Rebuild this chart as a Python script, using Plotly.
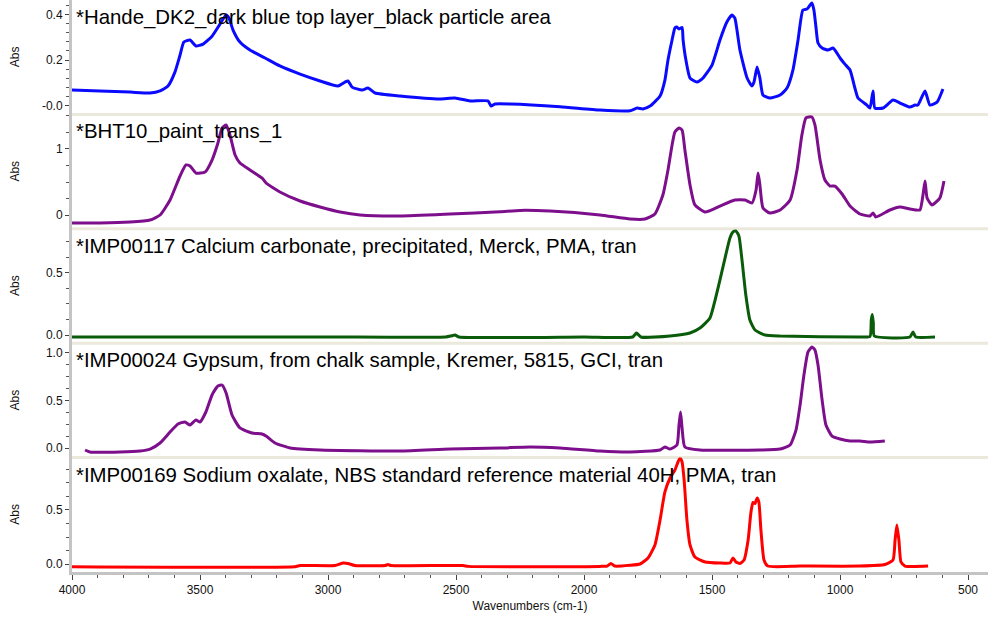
import plotly.graph_objects as go
from plotly.subplots import make_subplots

# ---------------- data ----------------
titles = [
    "*Hande_DK2_dark blue top layer_black particle area",
    "*BHT10_paint_trans_1",
    "*IMP00117 Calcium carbonate, precipitated, Merck, PMA, tran",
    "*IMP00024 Gypsum, from chalk sample, Kremer, 5815, GCI, tran",
    "*IMP00169 Sodium oxalate, NBS standard reference material 40H, PMA, tran",
]

wn1 = [4000, 3891, 3773, 3695, 3656, 3625, 3598, 3578, 3563, 3539, 3516, 3488, 3453, 3422, 3398, 3387,
       3371, 3344, 3305, 3246, 3188, 3109, 3031, 2961, 2934, 2922, 2906, 2867, 2844, 2816, 2719, 2563,
       2504, 2445, 2375, 2363, 2348, 2289, 2094, 1938, 1820, 1793, 1770, 1742, 1703, 1684, 1672, 1656,
       1645, 1637, 1629, 1617, 1613, 1602, 1586, 1559, 1535, 1500, 1469, 1442, 1422, 1411, 1391, 1363,
       1344, 1336, 1324, 1313, 1301, 1274, 1234, 1207, 1184, 1164, 1145, 1129, 1117, 1110, 1102, 1094,
       1086, 1070, 1047, 1027, 1000, 981, 961, 942, 930, 895, 883, 871, 864, 832, 793, 766, 727, 707,
       696, 668, 649, 621, 598]
ab1 = [0.068, 0.064, 0.059, 0.055, 0.064, 0.086, 0.147, 0.222, 0.279, 0.288, 0.262, 0.270, 0.305, 0.358, 0.398, 0.385,
       0.332, 0.279, 0.244, 0.209, 0.174, 0.138, 0.108, 0.086, 0.103, 0.108, 0.081, 0.068, 0.077, 0.055, 0.042, 0.029,
       0.033, 0.020, 0.020, -0.002, 0.007, 0.007, -0.005, -0.020, -0.023, -0.011, -0.015, -0.002, 0.042, 0.112, 0.200, 0.288,
       0.341, 0.345, 0.337, 0.343, 0.288, 0.200, 0.121, 0.103, 0.121, 0.178, 0.288, 0.367, 0.398, 0.385, 0.244, 0.121,
       0.086, 0.103, 0.169, 0.121, 0.046, 0.033, 0.046, 0.077, 0.156, 0.288, 0.420, 0.424, 0.442, 0.451, 0.420, 0.345,
       0.275, 0.253, 0.244, 0.253, 0.209, 0.182, 0.156, 0.077, 0.033, 0.002, -0.011, 0.064, -0.011, -0.011, 0.024, 0.011, -0.007, 0.002,
       0.002, 0.064, 0.002, 0.015, 0.073]

wn2 = [4000, 3891, 3773, 3695, 3656, 3617, 3578, 3555, 3539, 3516, 3480, 3453, 3430, 3414, 3398, 3383,
       3363, 3344, 3305, 3258, 3242, 3188, 3109, 3031, 2953, 2875, 2719, 2523, 2328, 2250, 2133, 1938,
       1820, 1762, 1723, 1692, 1672, 1656, 1645, 1629, 1617, 1606, 1586, 1567, 1527, 1469, 1411, 1371,
       1344, 1328, 1320, 1313, 1301, 1274, 1234, 1195, 1168, 1149, 1133, 1110, 1098, 1078, 1059, 1039,
       1020, 992, 961, 922, 883, 871, 860, 805, 766, 727, 688, 676, 668, 660, 641, 610, 594]
ab2 = [-0.121, -0.121, -0.106, -0.076, 0.0, 0.227, 0.591, 0.758, 0.742, 0.636, 0.652, 0.833, 1.091, 1.318, 1.364, 1.212,
       0.909, 0.788, 0.682, 0.561, 0.485, 0.348, 0.212, 0.121, 0.045, 0.0, -0.015, 0.015, 0.050, 0.070, 0.060, 0.0,
       -0.061, -0.061, 0.015, 0.303, 0.682, 1.061, 1.258, 1.318, 1.288, 0.985, 0.455, 0.152, 0.045, 0.136, 0.227, 0.227,
       0.182, 0.379, 0.636, 0.455, 0.106, 0.030, 0.076, 0.227, 0.682, 1.212, 1.470, 1.485, 1.364, 0.833, 0.530, 0.439,
       0.439, 0.318, 0.136, 0.015, -0.015, 0.030, -0.030, 0.076, 0.121, 0.091, 0.076, 0.303, 0.515, 0.258, 0.152, 0.258, 0.515]

wn3 = [4000, 3500, 3000, 2540, 2520, 2504, 2488, 2000, 1810, 1795, 1778, 1664, 1586, 1547, 1508, 1488,
       1469, 1449, 1430, 1418, 1407, 1395, 1383, 1368, 1352, 1332, 1293, 1234, 922, 883, 878, 874,
       870, 866, 727, 715, 704, 629]
ab3 = [-0.016, -0.016, -0.016, -0.016, -0.008, 0.0, -0.016, -0.016, -0.016, 0.016, -0.016, -0.008, 0.016, 0.056, 0.137, 0.282,
       0.444, 0.621, 0.782, 0.831, 0.839, 0.798, 0.605, 0.323, 0.121, 0.040, 0.0, -0.008, -0.016, -0.012, 0.120, 0.165,
       0.100, -0.008, -0.016, 0.024, -0.016, -0.016]

wn4 = [3949, 3930, 3813, 3734, 3695, 3656, 3617, 3586, 3559, 3539, 3516, 3500, 3477, 3453, 3430, 3414,
       3398, 3375, 3344, 3297, 3258, 3242, 3207, 3148, 3031, 2719, 2523, 2328, 2211, 2094, 1938, 1820,
       1703, 1684, 1664, 1637, 1629, 1623, 1617, 1606, 1547, 1313, 1234, 1195, 1172, 1156, 1141, 1125,
       1110, 1098, 1086, 1070, 1055, 1031, 1000, 961, 922, 883, 825]
ab4 = [-0.021, -0.042, -0.042, -0.032, -0.011, 0.053, 0.168, 0.253, 0.274, 0.242, 0.295, 0.274, 0.379, 0.558, 0.653, 0.663,
       0.579, 0.347, 0.211, 0.158, 0.147, 0.126, 0.053, 0.0, -0.021, -0.032, -0.011, 0.0, 0.011, 0.0, -0.032, -0.042,
       -0.021, 0.011, -0.011, 0.032, 0.242, 0.379, 0.211, 0.011, -0.021, -0.021, -0.011, 0.032, 0.189, 0.453, 0.768, 1.011,
       1.063, 1.032, 0.874, 0.505, 0.242, 0.126, 0.095, 0.074, 0.074, 0.063, 0.074]

wn5 = [4000, 3129, 3109, 2973, 2941, 2922, 2895, 2777, 2766, 2754, 2473, 2453, 1938, 1910, 1895, 1880,
       1820, 1781, 1750, 1723, 1703, 1684, 1664, 1645, 1633, 1625, 1617, 1609, 1598, 1586, 1567, 1527,
       1469, 1430, 1418, 1407, 1391, 1375, 1359, 1348, 1340, 1332, 1324, 1317, 1309, 1297, 1282, 1156,
       922, 825, 793, 785, 778, 770, 762, 746, 656]
ab5 = [-0.025, -0.025, -0.014, -0.014, 0.009, 0.005, -0.014, -0.014, -0.005, -0.014, -0.014, -0.022, -0.022, -0.019, 0.005, -0.019,
       -0.012, 0.0, 0.056, 0.176, 0.407, 0.667, 0.796, 0.870, 0.944, 0.981, 0.944, 0.778, 0.407, 0.176, 0.065, 0.019,
       0.009, 0.009, 0.056, 0.019, 0.005, 0.037, 0.222, 0.480, 0.570, 0.560, 0.611, 0.574, 0.315, 0.037, -0.019, -0.019,
       -0.019, -0.005, 0.037, 0.222, 0.361, 0.222, 0.019, -0.019, -0.019]

series = [(wn1, ab1), (wn2, ab2), (wn3, ab3), (wn4, ab4), (wn5, ab5)]
colors = ["#0a0aff", "#7d0f8c", "#0a5c0a", "#7d0f8c", "#ff0000"]

y_ranges = [[-0.039, 0.464], [-0.209, 1.524], [-0.066, 0.856], [-0.101, 1.103], [-0.074, 0.985]]
y_tickvals = [[0, 0.2, 0.4], [0, 1], [0, 0.5], [0, 0.5, 1.0], [0, 0.5]]
y_ticktext = [["-0.0", "0.2", "0.4"], ["0", "1"], ["0.0", "0.5"], ["0.0", "0.5", "1.0"], ["0.0", "0.5"]]
y_minor = [0.04, 0.25, 0.125, 0.125, 0.125]

x_ticks = [4000, 3500, 3000, 2500, 2000, 1500, 1000, 500]

# ---------------- figure ----------------
FONT = "Liberation Sans, Arial, sans-serif"
fig = make_subplots(rows=5, cols=1, shared_xaxes=True, vertical_spacing=0)

for i, ((wx, wy), col) in enumerate(zip(series, colors)):
    fig.add_trace(go.Scatter(x=wx, y=wy, mode="lines",
                             line=dict(color=col, width=3, shape="spline", smoothing=0.5),
                             showlegend=False, hoverinfo="skip"), row=i + 1, col=1)

for i in range(5):
    r = i + 1
    fig.update_yaxes(row=r, col=1, range=y_ranges[i], tickmode="array",
                     tickvals=y_tickvals[i], ticktext=y_ticktext[i],
                     showline=True, linecolor="#c4c4c4", linewidth=3,
                     ticks="outside", ticklen=4, tickcolor="#444", tickwidth=1,
                     minor=dict(dtick=y_minor[i], tick0=0, ticks="outside", ticklen=3,
                                tickcolor="#555", tickwidth=1),
                     showgrid=False, zeroline=False,
                     tickfont=dict(family=FONT, size=12, color="#111"))
    fig.update_xaxes(row=r, col=1, range=[4000, 422], showgrid=False, zeroline=False,
                     showline=False, ticks="", showticklabels=False)
    ydom = "y domain" if r == 1 else f"y{r} domain"
    fig.add_annotation(text=titles[i], xref="paper", yref=ydom, x=0, y=1,
                       xanchor="left", yanchor="top", xshift=2, yshift=-4,
                       showarrow=False, font=dict(family=FONT, size=20.4, color="#000"))
    fig.add_annotation(text="Abs", xref="paper", yref=ydom, x=0, y=0.5,
                       xanchor="center", yanchor="middle", xshift=-57, textangle=-90,
                       showarrow=False, font=dict(family=FONT, size=12, color="#111"))
    if r < 5:
        fig.add_shape(type="line", xref="paper", yref=ydom, x0=0, x1=1, y0=0, y1=0,
                      line=dict(color="#ebe8dc", width=3), layer="below")

fig.update_xaxes(row=5, col=1, showline=True, linecolor="#c4c4c4", linewidth=3,
                 ticks="outside", ticklen=5, tickcolor="#444", tickwidth=1,
                 tickmode="array", tickvals=x_ticks, ticktext=[str(v) for v in x_ticks],
                 minor=dict(dtick=100, tick0=0, ticks="outside", ticklen=3, tickcolor="#555", tickwidth=1),
                 showticklabels=True, tickfont=dict(family=FONT, size=12, color="#111"),
                 title=dict(text="Wavenumbers (cm-1)", standoff=6,
                            font=dict(family=FONT, size=12, color="#111")))

fig.update_layout(width=988, height=618, margin=dict(l=72, r=0, t=0, b=46),
                  paper_bgcolor="white", plot_bgcolor="white")

fig.write_html("out.html")
